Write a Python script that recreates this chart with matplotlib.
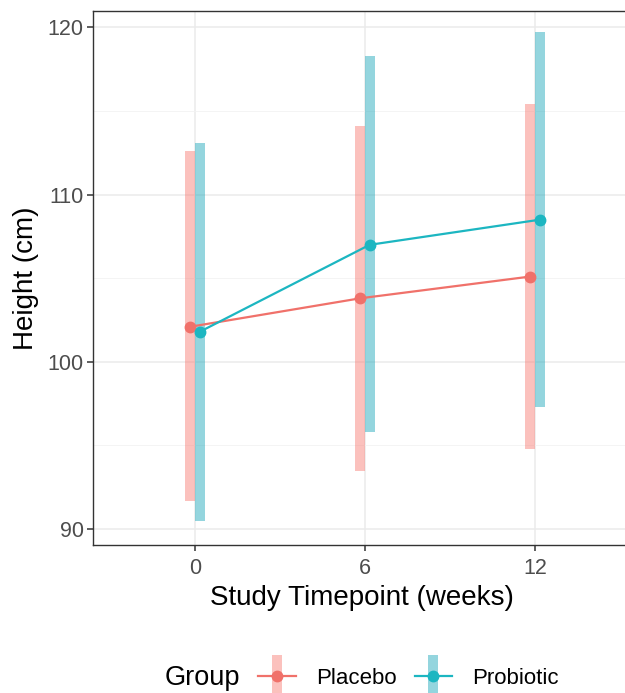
import matplotlib
matplotlib.use('Agg')
import matplotlib.pyplot as plt
from matplotlib.lines import Line2D
from matplotlib.offsetbox import HPacker

plt.rcParams['font.family'] = ['Liberation Sans', 'DejaVu Sans']

# data
weeks = [0, 6, 12]
groups = ['Placebo', 'Probiotic']
placebo_mean = [102.1, 103.8, 105.1]
placebo_low = [91.7, 93.5, 94.8]
placebo_high = [112.6, 114.1, 115.4]
probiotic_mean = [101.8, 107.0, 108.5]
probiotic_low = [90.5, 95.8, 97.3]
probiotic_high = [113.1, 118.3, 119.7]

line_colors = {'Placebo': '#F0716A', 'Probiotic': '#1CB6C1'}
bar_colors = {'Placebo': '#F8766D', 'Probiotic': '#2AACBE'}
bar_alpha = {'Placebo': 0.45, 'Probiotic': 0.5}
dodge = {'Placebo': -0.18, 'Probiotic': 0.16}
series = {
    'Placebo': (placebo_mean, placebo_low, placebo_high),
    'Probiotic': (probiotic_mean, probiotic_low, probiotic_high),
}

fig = plt.figure(figsize=(6.25, 6.93), dpi=100)
ax = fig.add_axes([93.3 / 625, 1 - 545 / 693, 1.0 - 93.3 / 625 + 0.01, (545 - 10.7) / 693])

for g in groups:
    mean, low, high = series[g]
    xs = [w + dodge[g] for w in weeks]
    ax.vlines(xs, low, high, color=bar_colors[g], alpha=bar_alpha[g], linewidth=7.2, zorder=2)
    ax.plot(xs, mean, color=line_colors[g], linewidth=1.6, marker='o', markersize=7.5, zorder=3)

ax.set_xlim(-3.6, 15.4)
ax.set_ylim(89.05, 121.0)
ax.set_xticks(weeks)
ax.set_xticklabels([str(w) for w in weeks])
ax.set_yticks([90, 100, 110, 120])
ax.set_yticks([95, 105, 115], minor=True)
ax.set_xticks([], minor=True)

ax.grid(True, which='major', color='#EBEBEB', linewidth=1.1, zorder=0)
ax.grid(True, which='minor', axis='y', color='#F2F2F2', linewidth=0.6, zorder=0)
ax.set_axisbelow(True)

for s in ax.spines.values():
    s.set_color('#333333')
    s.set_linewidth(1.0)
ax.spines['right'].set_visible(False)

ax.tick_params(axis='both', which='major', colors='#333333', labelcolor='#4D4D4D',
               labelsize=15.5, length=4, width=1.1, pad=3)
ax.tick_params(axis='x', which='major', pad=5)
ax.tick_params(axis='both', which='minor', length=0)

ax.set_xlabel('Study Timepoint (weeks)', fontsize=20, color='black', labelpad=5)
ax.set_ylabel('Height (cm)', fontsize=20, color='black', labelpad=6)

handles = []
for g in groups:
    bar = Line2D([], [], color=bar_colors[g], alpha=bar_alpha[g], marker='|', linestyle='none',
                 markersize=30, markeredgewidth=7.2)
    pt = Line2D([], [], color=line_colors[g], linewidth=1.6, marker='o', markersize=7.5)
    handles.append((bar, pt))

leg = fig.legend(handles, groups, loc='center', bbox_to_anchor=(0.579, 1 - 678 / 693),
                 ncol=2, frameon=False, fontsize=16, handlelength=1.7,
                 columnspacing=0.8, handletextpad=0.9,
                 title='Group', title_fontsize=19.5)
# put the legend title to the left of the entries
title_box = leg._legend_title_box
body = leg._legend_handle_box
leg._legend_box._children = [HPacker(pad=0, sep=13, align='center', children=[title_box, body])]

fig.savefig('out.png', dpi=100)
